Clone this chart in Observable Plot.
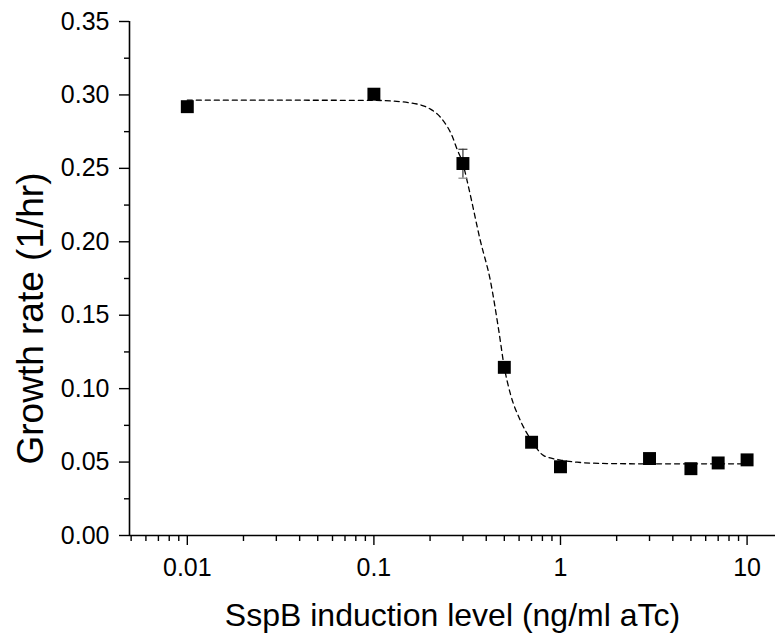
<!DOCTYPE html>
<html>
<head>
<meta charset="utf-8">
<script src="https://cdn.jsdelivr.net/npm/d3@7"></script>
<script src="https://cdn.jsdelivr.net/npm/@observablehq/plot@0.6"></script>
<style>
  html, body { margin: 0; padding: 0; background: #fff; }
  svg { font-family: "Liberation Sans", Arial, sans-serif; }
</style>
</head>
<body>
<div id="chart"></div>
<script>
// Measured data points
const induction = [0.01, 0.1, 0.3, 0.5, 0.7, 1, 3, 5, 7, 10];
const growth = [0.292, 0.3005, 0.2533, 0.1145, 0.0635, 0.0468, 0.0524, 0.0455, 0.0494, 0.0515];
// Error bar (only one visible)
const errX = [0.3];
const errLow = [0.2433];
const errHigh = [0.263];
// Fit curve
const fitX = [0.01, 0.0316, 0.1, 0.153, 0.201, 0.232, 0.263, 0.279, 0.30, 0.322, 0.372, 0.421, 0.467, 0.5, 0.539, 0.61, 0.70, 0.813, 1.0, 1.227, 1.777, 3, 10];
const fitY = [0.2964, 0.2964, 0.2963, 0.2948, 0.2903, 0.2835, 0.2718, 0.2631, 0.2531, 0.2369, 0.2007, 0.1735, 0.1395, 0.1145, 0.0964, 0.0782, 0.0646, 0.0544, 0.0514, 0.0499, 0.0490, 0.0488, 0.0488];
// Axis ticks
const xMajor = [0.01, 0.1, 1, 10];
const xMajorLabels = ["0.01", "0.1", "1", "10"];
const xMinor = [0.005, 0.006, 0.007, 0.008, 0.009, 0.02, 0.03, 0.04, 0.05, 0.06, 0.07, 0.08, 0.09,
  0.2, 0.3, 0.4, 0.5, 0.6, 0.7, 0.8, 0.9, 2, 3, 4, 5, 6, 7, 8, 9];
const yMajor = [0, 0.05, 0.10, 0.15, 0.20, 0.25, 0.30, 0.35];
const yMajorLabels = ["0.00", "0.05", "0.10", "0.15", "0.20", "0.25", "0.30", "0.35"];
const yMinor = [0.025, 0.075, 0.125, 0.175, 0.225, 0.275, 0.325];
const xLabel = "SspB induction level (ng/ml aTc)";
const yLabel = "Growth rate (1/hr)";

const points = induction.map((x, i) => ({x, y: growth[i]}));
const fit = fitX.map((x, i) => ({x, y: fitY[i]}));
const errs = errX.map((x, i) => ({x, lo: errLow[i], hi: errHigh[i]}));
const xTicks = xMajor.map((x, i) => ({x, label: xMajorLabels[i]}));
const yTicks = yMajor.map((y, i) => ({y, label: yMajorLabels[i]}));
const xDomain = [0.0049, 14.2];

const capSymbol = {
  draw(context, size) {
    const w = 4.5;
    context.moveTo(-w, 0);
    context.lineTo(w, 0);
  }
};

const chart = Plot.plot({
  width: 775,
  height: 639,
  marginLeft: 129,
  marginRight: 0,
  marginTop: 21,
  marginBottom: 104,
  style: {fontFamily: "Liberation Sans, Arial, sans-serif", background: "#fff", color: "#000"},
  x: {type: "log", domain: xDomain},
  y: {domain: [0, 0.35]},
  marks: [
    Plot.axisY(yMajor, {tickSize: 10, tickFormat: () => "", label: null, strokeWidth: 1.4}),
    Plot.axisY(yMinor, {tickSize: 5, tickFormat: () => "", label: null, strokeWidth: 1.4}),
    Plot.axisX(xMajor, {tickSize: 10, tickFormat: () => "", label: null, strokeWidth: 1.4}),
    Plot.axisX(xMinor, {tickSize: 6, tickFormat: () => "", label: null, strokeWidth: 1.4}),
    Plot.text(yTicks, {y: "y", text: "label", frameAnchor: "left", dx: -20, textAnchor: "end", lineAnchor: "middle", fontSize: 25, fill: "#000"}),
    Plot.text(xTicks, {x: "x", text: "label", frameAnchor: "bottom", dy: 32, textAnchor: "middle", lineAnchor: "middle", fontSize: 25, fill: "#000"}),
    Plot.ruleY([0], {stroke: "#000", strokeWidth: 1.6}),
    Plot.ruleX([xDomain[0]], {stroke: "#000", strokeWidth: 1.6}),
    Plot.line(fit, {x: "x", y: "y", curve: "monotone-x", stroke: "#000", strokeWidth: 1.3, strokeDasharray: "5,4"}),
    Plot.ruleX(errs, {x: "x", y1: "lo", y2: "hi", stroke: "#333", strokeWidth: 1.2}),
    Plot.dot(errs, {x: "x", y: "hi", symbol: capSymbol, stroke: "#333", strokeWidth: 1.2}),
    Plot.dot(errs, {x: "x", y: "lo", symbol: capSymbol, stroke: "#888", strokeWidth: 1.2}),
    Plot.dot(points, {x: "x", y: "y", symbol: "square", r: 7.3, fill: "#000", stroke: "none"}),
    Plot.text([xLabel], {frameAnchor: "bottom", dy: 90, fontSize: 32, fill: "#000", textAnchor: "middle"}),
    Plot.text([yLabel], {frameAnchor: "left", dx: -98, dy: 40, rotate: -90, fontSize: 37, fill: "#000", textAnchor: "middle", lineAnchor: "middle"})
  ]
});
document.getElementById("chart").appendChild(chart);
</script>
</body>
</html>
